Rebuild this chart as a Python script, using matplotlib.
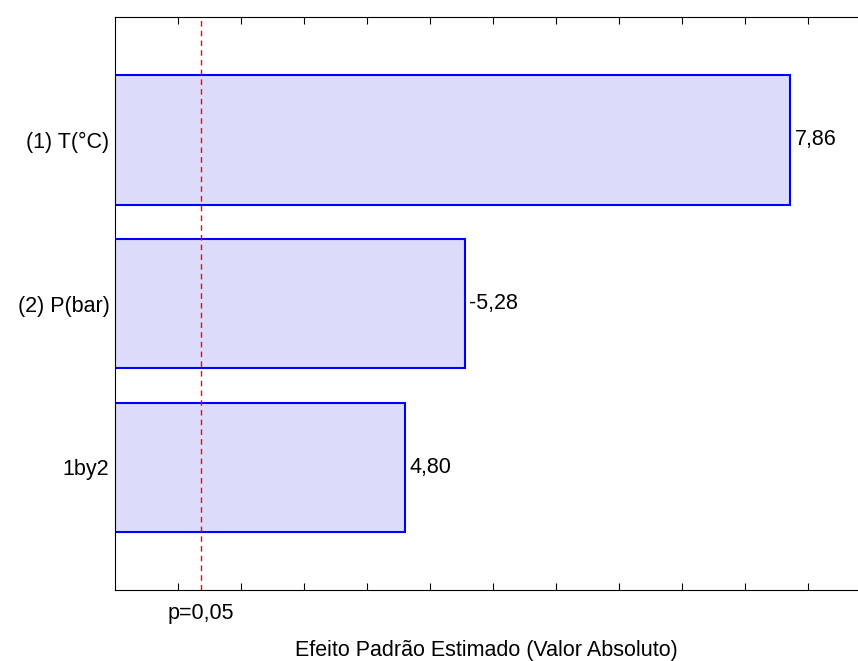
import numpy as np
import matplotlib.pyplot as plt

plt.rcParams['font.family'] = ['Liberation Sans', 'DejaVu Sans']

fatores = ["(1) T(°C)", "(2) P(bar)", "1by2"]
efeitos = [7.86, -5.28, 4.80]
p_critico = 3.182
xticks = np.arange(3.0, 8.01, 0.5)

fs = 15.5

fig = plt.figure(figsize=(8.58, 6.61), dpi=100)
ax = fig.add_axes([0.134, 0.107, 0.866, 0.867])

y = np.arange(len(fatores))
valores = np.abs(efeitos)
ax.barh(y, valores, height=0.79, left=0, color="#dcdcfa", edgecolor="#0000ff", linewidth=1.5, zorder=2)

for yi, v, e in zip(y, valores, efeitos):
    ax.text(v + 0.035, yi, f"{e:.2f}".replace(".", ","), va="center", ha="left", fontsize=fs)

ax.axvline(p_critico, color="#ff0000", linestyle=(0, (4, 3)), linewidth=1, zorder=3)
ax.text(p_critico, -0.022, "p=0,05", transform=ax.get_xaxis_transform(),
        ha="center", va="top", fontsize=fs)

ax.set_xlim(2.5, 8.4)
ax.set_ylim(2.75, -0.75)
ax.set_yticks(y)
ax.set_yticklabels(fatores, fontsize=fs)
ax.set_xticks(xticks)
ax.set_xticklabels([])
ax.tick_params(axis="x", direction="in", length=5, top=True, width=0.8)
ax.tick_params(axis="y", direction="in", length=4, width=0.8, pad=4)
ax.spines["right"].set_visible(False)
ax.set_xlabel("Efeito Padrão Estimado (Valor Absoluto)", fontsize=fs, va="top")
ax.xaxis.set_label_coords(0.5, -0.086)

fig.savefig("out.png", dpi=100)
